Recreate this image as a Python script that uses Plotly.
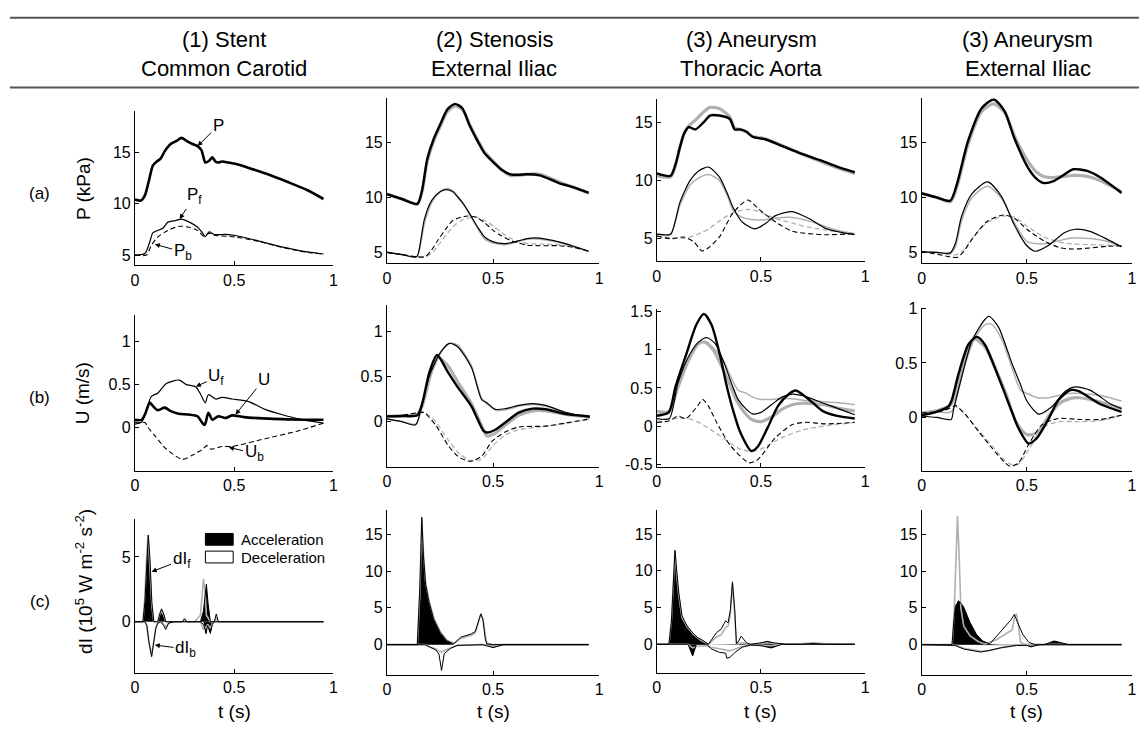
import numpy as np
import plotly.graph_objects as go

W, H = 1144, 729
FONT = "Liberation Sans, Arial, Helvetica, sans-serif"
GRAY = "#b0b0b0"

# ---------------- data ----------------
col_titles = ["(1) Stent", "(2) Stenosis", "(3) Aneurysm", "(3) Aneurysm"]
col_sites = ["Common Carotid", "External Iliac", "Thoracic Aorta", "External Iliac"]
row_labels = ["(a)", "(b)", "(c)"]
y_titles = ["P (kPa)", "U (m/s)", "dI (10<sup>5</sup> W m<sup>-2</sup> s<sup>-2</sup>)"]
legend_labels = ["Acceleration", "Deceleration"]
x_ticks = [0, 0.5, 1]
x_ticklabels = ["0", "0.5", "1"]

# Row (a): pressure
P1_t = [0, 0.03, 0.05, 0.07, 0.09, 0.11, 0.13, 0.15, 0.18, 0.21, 0.235, 0.26, 0.29, 0.315, 0.335, 0.355, 0.375, 0.39, 0.405, 0.42, 0.44, 0.47, 0.51, 0.57, 0.67, 0.77, 0.87, 0.95]
P1 = [10.4, 10.3, 10.8, 12.2, 13.7, 14.1, 14.4, 15.1, 15.8, 16.1, 16.4, 16.1, 15.8, 15.6, 15.2, 14.0, 14.2, 14.5, 14.1, 14.0, 14.1, 14.0, 13.85, 13.5, 12.85, 12.1, 11.3, 10.45]
Pf1_t = [0, 0.05, 0.075, 0.09, 0.115, 0.14, 0.166, 0.208, 0.233, 0.274, 0.316, 0.34, 0.354, 0.374, 0.40, 0.457, 0.507, 0.606, 0.74, 0.87, 0.95]
Pf1 = [5.0, 5.15, 6.3, 7.15, 7.4, 7.6, 8.2, 8.37, 8.5, 8.2, 7.7, 7.15, 6.8, 7.25, 7.0, 7.0, 6.9, 6.45, 5.8, 5.3, 5.1]
Pb1_t = [0, 0.058, 0.083, 0.116, 0.166, 0.224, 0.274, 0.316, 0.349, 0.37, 0.407, 0.507, 0.606, 0.74, 0.87, 0.95]
Pb1 = [5.0, 5.0, 5.96, 6.76, 7.4, 7.8, 7.7, 7.4, 6.8, 7.1, 6.9, 6.76, 6.4, 5.75, 5.25, 5.1]

P2_t = [0, 0.07, 0.143, 0.165, 0.19, 0.22, 0.25, 0.285, 0.32, 0.355, 0.39, 0.43, 0.46, 0.50, 0.54, 0.58, 0.62, 0.66, 0.72, 0.81, 0.88, 0.95]
P2 = [10.3, 9.85, 9.4, 10.6, 13.5, 15.3, 16.6, 18.0, 18.5, 18.1, 16.5, 15.0, 14.0, 13.2, 12.5, 12.1, 12.05, 12.1, 12.0, 11.3, 10.9, 10.4]
P2g = [10.3, 9.85, 9.4, 10.5, 13.3, 15.1, 16.4, 17.8, 18.3, 18.0, 16.6, 15.1, 14.1, 13.3, 12.5, 12.0, 12.0, 12.1, 12.1, 11.4, 10.9, 10.4]
Pf2_t = [0, 0.07, 0.14, 0.16, 0.175, 0.21, 0.25, 0.28, 0.31, 0.33, 0.36, 0.39, 0.43, 0.46, 0.50, 0.56, 0.62, 0.66, 0.72, 0.81, 0.88, 0.95]
Pf2 = [5.0, 4.8, 4.6, 6.2, 7.9, 9.7, 10.5, 10.7, 10.5, 10.1, 9.4, 8.5, 7.2, 6.4, 5.95, 5.8, 6.05, 6.25, 6.3, 5.95, 5.55, 5.1]
Pf2g = [5.0, 4.8, 4.6, 5.9, 7.5, 9.5, 10.5, 10.8, 10.6, 10.2, 9.4, 8.4, 7.1, 6.2, 5.85, 5.7, 6.0, 6.2, 6.2, 5.9, 5.5, 5.1]
Pb2_t = [0, 0.07, 0.14, 0.18, 0.21, 0.24, 0.28, 0.31, 0.35, 0.38, 0.42, 0.46, 0.50, 0.54, 0.58, 0.62, 0.66, 0.72, 0.81, 0.88, 0.95]
Pb2 = [5.0, 4.8, 4.6, 4.6, 5.2, 6.1, 7.2, 7.9, 8.2, 8.3, 8.2, 7.7, 7.0, 6.5, 6.1, 5.85, 5.65, 5.6, 5.6, 5.45, 5.1]
Pb2g = [5.0, 4.8, 4.6, 4.6, 4.9, 5.6, 6.6, 7.3, 7.9, 8.1, 8.2, 7.9, 7.4, 6.8, 6.3, 6.0, 5.8, 5.75, 5.7, 5.5, 5.1]

P3_t = [0, 0.066, 0.09, 0.11, 0.13, 0.153, 0.185, 0.224, 0.255, 0.30, 0.35, 0.374, 0.40, 0.43, 0.46, 0.52, 0.59, 0.68, 0.79, 0.886, 0.95]
P3 = [10.6, 10.4, 11.4, 12.8, 14.0, 14.6, 14.4, 15.0, 15.6, 15.6, 15.3, 14.4, 14.4, 14.2, 13.75, 13.55, 13.05, 12.4, 11.7, 11.05, 10.7]
P3g = [10.4, 10.3, 11.3, 12.8, 14.0, 14.7, 15.2, 15.9, 16.3, 16.2, 15.5, 14.5, 14.4, 14.2, 13.8, 13.6, 13.1, 12.4, 11.6, 10.95, 10.6]
Pf3_t = [0, 0.066, 0.09, 0.11, 0.16, 0.20, 0.248, 0.30, 0.34, 0.366, 0.41, 0.47, 0.52, 0.57, 0.65, 0.73, 0.81, 0.886, 0.95]
Pf3 = [5.35, 5.35, 6.6, 8.05, 10.0, 10.8, 11.15, 10.3, 8.8, 7.65, 6.4, 5.8, 6.25, 6.95, 7.3, 6.7, 5.85, 5.5, 5.3]
Pf3g = [5.35, 5.35, 6.5, 7.8, 9.6, 10.2, 10.5, 10.0, 8.6, 7.4, 6.8, 6.6, 6.6, 6.75, 6.8, 6.5, 6.0, 5.6, 5.4]
Pb3_t = [0, 0.066, 0.13, 0.177, 0.216, 0.25, 0.30, 0.366, 0.437, 0.49, 0.57, 0.65, 0.73, 0.81, 0.95]
Pb3 = [5.2, 4.95, 5.1, 4.7, 3.9, 4.2, 5.1, 7.2, 8.3, 7.5, 6.4, 5.6, 5.4, 5.3, 5.4]
Pb3g = [5.2, 5.05, 5.0, 5.2, 5.5, 5.8, 6.5, 7.2, 7.5, 7.3, 6.7, 6.3, 5.95, 5.7, 5.4]

P4_t = [0, 0.07, 0.136, 0.168, 0.22, 0.285, 0.343, 0.395, 0.44, 0.505, 0.545, 0.58, 0.63, 0.68, 0.72, 0.787, 0.85, 0.95]
P4 = [10.35, 10.0, 9.7, 11.25, 15.1, 18.1, 18.9, 17.8, 15.4, 12.7, 11.7, 11.3, 11.5, 12.1, 12.55, 12.4, 11.8, 10.4]
P4g = [10.35, 10.0, 9.6, 11.0, 14.8, 17.8, 18.5, 17.7, 15.6, 13.3, 12.3, 11.9, 11.8, 11.9, 12.0, 11.9, 11.5, 10.5]
Pf4_t = [0, 0.07, 0.136, 0.16, 0.19, 0.24, 0.313, 0.38, 0.44, 0.50, 0.54, 0.60, 0.68, 0.73, 0.80, 0.88, 0.95]
Pf4 = [5.05, 5.0, 4.95, 5.8, 8.3, 10.35, 11.4, 10.05, 7.5, 5.6, 5.1, 5.6, 6.8, 7.1, 6.9, 6.2, 5.5]
Pf4g = [5.05, 5.0, 4.9, 5.5, 7.9, 10.0, 11.0, 9.9, 7.7, 6.0, 5.8, 5.8, 6.2, 6.3, 6.25, 6.0, 5.5]
Pb4_t = [0, 0.07, 0.13, 0.17, 0.20, 0.24, 0.31, 0.39, 0.44, 0.50, 0.58, 0.66, 0.72, 0.80, 0.88, 0.95]
Pb4 = [5.05, 4.85, 4.6, 4.55, 5.1, 6.2, 7.8, 8.4, 8.1, 7.1, 6.05, 5.4, 5.3, 5.4, 5.55, 5.6]
Pb4g = [5.05, 4.9, 4.8, 4.8, 5.2, 6.3, 7.7, 8.3, 8.2, 7.4, 6.4, 5.9, 5.75, 5.7, 5.65, 5.6]

# Row (b): velocity
U1_t = [0, 0.033, 0.05, 0.075, 0.09, 0.116, 0.15, 0.18, 0.22, 0.27, 0.315, 0.34, 0.352, 0.37, 0.39, 0.42, 0.457, 0.49, 0.55, 0.70, 0.85, 0.95]
U1 = [0.088, 0.088, 0.15, 0.29, 0.25, 0.2, 0.23, 0.19, 0.16, 0.15, 0.13, 0.05, 0.03, 0.17, 0.09, 0.13, 0.11, 0.14, 0.12, 0.1, 0.09, 0.09]
Uf1_t = [0, 0.033, 0.05, 0.083, 0.116, 0.158, 0.224, 0.257, 0.307, 0.332, 0.354, 0.37, 0.407, 0.44, 0.49, 0.573, 0.656, 0.739, 0.822, 0.95]
Uf1 = [0.057, 0.06, 0.15, 0.36, 0.4, 0.51, 0.55, 0.5, 0.47, 0.38, 0.285, 0.38, 0.33, 0.35, 0.33, 0.3, 0.21, 0.15, 0.1, 0.05]
Ub1_t = [0, 0.05, 0.066, 0.1, 0.158, 0.24, 0.29, 0.34, 0.362, 0.382, 0.44, 0.49, 0.656, 0.822, 0.95]
Ub1 = [0.038, 0.057, 0.0, -0.095, -0.25, -0.37, -0.32, -0.255, -0.21, -0.25, -0.22, -0.22, -0.13, -0.04, 0.05]

U2_t = [0, 0.07, 0.143, 0.167, 0.2, 0.236, 0.287, 0.334, 0.398, 0.454, 0.47, 0.51, 0.557, 0.62, 0.685, 0.748, 0.844, 0.955]
U2 = [0.058, 0.062, 0.07, 0.21, 0.55, 0.74, 0.55, 0.38, 0.17, -0.1, -0.12, -0.09, -0.01, 0.1, 0.144, 0.137, 0.083, 0.058]
U2g = [0.06, 0.065, 0.08, 0.18, 0.48, 0.72, 0.62, 0.44, 0.2, -0.09, -0.16, -0.13, -0.04, 0.07, 0.12, 0.12, 0.08, 0.05]
Uf2_t = [0, 0.07, 0.135, 0.16, 0.2, 0.255, 0.295, 0.334, 0.398, 0.446, 0.47, 0.51, 0.557, 0.62, 0.685, 0.748, 0.844, 0.955]
Uf2 = [0.03, 0.0, -0.035, 0.137, 0.51, 0.78, 0.87, 0.83, 0.6, 0.245, 0.21, 0.137, 0.144, 0.18, 0.2, 0.18, 0.1, 0.047]
Uf2g = [0.03, 0.0, -0.03, 0.11, 0.47, 0.77, 0.87, 0.85, 0.62, 0.26, 0.2, 0.13, 0.13, 0.17, 0.19, 0.17, 0.1, 0.05]
Ub2_t = [0, 0.07, 0.15, 0.175, 0.23, 0.287, 0.334, 0.39, 0.446, 0.494, 0.557, 0.62, 0.748, 0.844, 0.955]
Ub2 = [0.06, 0.07, 0.1, 0.1, -0.04, -0.26, -0.385, -0.44, -0.385, -0.22, -0.115, -0.06, -0.05, -0.014, 0.03]
Ub2g = [0.06, 0.07, 0.1, 0.11, 0.0, -0.2, -0.34, -0.43, -0.42, -0.28, -0.15, -0.09, -0.05, -0.02, 0.03]

U3_t = [0, 0.057, 0.09, 0.14, 0.19, 0.226, 0.262, 0.303, 0.336, 0.369, 0.40, 0.454, 0.484, 0.533, 0.582, 0.631, 0.667, 0.73, 0.795, 0.86, 0.95]
U3 = [0.137, 0.18, 0.52, 0.93, 1.33, 1.47, 1.33, 0.93, 0.52, 0.18, -0.077, -0.325, -0.27, -0.013, 0.265, 0.415, 0.466, 0.35, 0.2, 0.137, 0.1]
U3g_t = [0, 0.06, 0.1, 0.15, 0.2, 0.23, 0.27, 0.3, 0.35, 0.38, 0.42, 0.46, 0.5, 0.55, 0.6, 0.65, 0.7, 0.8, 0.9, 0.95]
U3g = [0.19, 0.19, 0.5, 0.85, 1.08, 1.1, 1.0, 0.85, 0.55, 0.35, 0.18, 0.08, 0.06, 0.12, 0.22, 0.28, 0.3, 0.28, 0.22, 0.2]
Uf3_t = [0, 0.06, 0.1, 0.15, 0.2, 0.24, 0.28, 0.32, 0.36, 0.39, 0.43, 0.46, 0.5, 0.55, 0.6, 0.65, 0.7, 0.8, 0.9, 0.95]
Uf3 = [0.1, 0.1, 0.55, 0.9, 1.1, 1.16, 1.08, 0.85, 0.55, 0.35, 0.22, 0.16, 0.18, 0.28, 0.38, 0.42, 0.4, 0.3, 0.2, 0.15]
Uf3g = [0.2, 0.2, 0.5, 0.88, 1.1, 1.1, 1.0, 0.85, 0.62, 0.47, 0.43, 0.38, 0.35, 0.35, 0.36, 0.36, 0.34, 0.32, 0.3, 0.28]
Ub3_t = [0, 0.06, 0.1, 0.14, 0.197, 0.22, 0.246, 0.287, 0.352, 0.443, 0.484, 0.566, 0.648, 0.713, 0.81, 0.95]
Ub3 = [0.05, 0.07, 0.13, 0.1, 0.27, 0.35, 0.27, 0.05, -0.25, -0.48, -0.44, -0.16, 0.017, 0.05, 0.03, 0.05]
Ub3g_t = [0, 0.1, 0.15, 0.2, 0.25, 0.3, 0.35, 0.4, 0.45, 0.5, 0.6, 0.7, 0.8, 0.95]
Ub3g = [0.08, 0.1, 0.1, 0.05, -0.03, -0.12, -0.22, -0.3, -0.33, -0.3, -0.15, -0.05, 0.0, 0.05]

U4_t = [0, 0.063, 0.127, 0.143, 0.175, 0.222, 0.262, 0.3, 0.365, 0.43, 0.46, 0.508, 0.548, 0.603, 0.65, 0.706, 0.746, 0.85, 0.95]
U4 = [0.02, 0.045, 0.1, 0.16, 0.4, 0.67, 0.74, 0.67, 0.37, 0.045, -0.1, -0.24, -0.19, -0.015, 0.16, 0.25, 0.24, 0.12, 0.05]
U4g_t = [0, 0.07, 0.14, 0.2, 0.25, 0.3, 0.35, 0.4, 0.45, 0.5, 0.55, 0.6, 0.65, 0.7, 0.75, 0.85, 0.95]
U4g = [0.04, 0.06, 0.12, 0.5, 0.72, 0.65, 0.45, 0.22, -0.05, -0.16, -0.14, 0.0, 0.12, 0.17, 0.18, 0.14, 0.08]
Uf4_t = [0, 0.07, 0.14, 0.151, 0.19, 0.238, 0.3, 0.32, 0.365, 0.43, 0.47, 0.5, 0.556, 0.62, 0.683, 0.73, 0.8, 0.9, 0.95]
Uf4 = [0.01, 0.0, -0.02, 0.07, 0.37, 0.7, 0.9, 0.93, 0.83, 0.49, 0.3, 0.15, 0.03, 0.1, 0.24, 0.28, 0.25, 0.12, 0.08]
Uf4g_t = [0, 0.07, 0.14, 0.2, 0.25, 0.3, 0.33, 0.38, 0.43, 0.47, 0.5, 0.55, 0.6, 0.65, 0.7, 0.75, 0.85, 0.95]
Uf4g = [0.05, 0.05, 0.05, 0.45, 0.72, 0.85, 0.86, 0.72, 0.45, 0.25, 0.22, 0.18, 0.18, 0.2, 0.22, 0.22, 0.2, 0.15]
Ub4_t = [0, 0.1, 0.15, 0.16, 0.206, 0.27, 0.333, 0.397, 0.42, 0.46, 0.508, 0.571, 0.65, 0.75, 0.85, 0.95]
Ub4 = [0.04, 0.06, 0.1, 0.11, 0.03, -0.13, -0.28, -0.42, -0.45, -0.42, -0.25, -0.07, -0.01, -0.02, -0.02, 0.02]
Ub4g = [0.04, 0.06, 0.1, 0.1, 0.03, -0.12, -0.26, -0.4, -0.43, -0.43, -0.3, -0.1, -0.04, -0.04, -0.03, 0.02]

# Row (c): wave intensity (10^5 W m^-2 s^-2)
dIf1_t = [0, 0.04, 0.05, 0.06, 0.067, 0.075, 0.085, 0.095, 0.115, 0.125, 0.134, 0.145, 0.155, 0.2, 0.24, 0.25, 0.26, 0.3, 0.33, 0.345, 0.352, 0.36, 0.368, 0.38, 0.4, 0.41, 0.42, 0.45, 0.95]
dIf1 = [0, 0, 1.5, 5.0, 6.7, 5.0, 1.5, 0, 0, 0.6, 1.0, 0.6, 0, 0, 0, 0.2, 0, 0, 0, 0.8, 2.0, 2.9, 1.5, 0, 0, 0.6, 0, 0, 0]
dIf1g = [0, 0, 2.0, 5.5, 6.6, 4.5, 1.2, 0, 0, 0.6, 0.8, 0.5, 0, 0, 0, 0.3, 0, 0, 0.5, 3.3, 2.5, 0.5, 0.3, 0, 0, 0.3, 0, 0, 0]
dIb1_t = [0, 0.05, 0.06, 0.07, 0.084, 0.095, 0.105, 0.115, 0.13, 0.145, 0.155, 0.17, 0.2, 0.33, 0.345, 0.352, 0.358, 0.366, 0.372, 0.38, 0.39, 0.4, 0.95]
dIb1 = [0, 0, -0.3, -1.5, -2.7, -1.5, -0.5, -0.1, 0, -0.3, -0.6, -0.1, 0, 0, -0.2, -0.5, -0.93, -0.3, -0.5, -0.9, -0.2, 0, 0]
dIb1g = [0, 0, -0.3, -1.6, -2.6, -1.4, -0.5, -0.1, 0, -0.2, -0.4, -0.1, 0, 0, -0.6, -0.4, -0.5, -0.2, -0.3, -0.5, -0.1, 0, 0]

dIf2_t = [0, 0.143, 0.155, 0.164, 0.172, 0.182, 0.198, 0.221, 0.252, 0.283, 0.315, 0.346, 0.377, 0.40, 0.416, 0.431, 0.442, 0.452, 0.463, 0.47, 0.5, 0.95]
dIf2 = [0, 0, 8.0, 17.3, 12.0, 8.2, 5.8, 3.4, 1.6, 0.5, 0.1, 1.0, 1.27, 1.5, 1.8, 3.1, 4.2, 3.4, 0.75, 0.1, 0, 0]
dIf2g = [0, 0, 7.0, 17.0, 12.5, 8.5, 6.0, 3.6, 1.7, 0.6, 0.2, 0.8, 1.1, 1.3, 1.6, 3.0, 4.1, 3.5, 1.0, 0.2, 0, 0]
dIb2_t = [0, 0.18, 0.2, 0.23, 0.245, 0.257, 0.27, 0.3, 0.33, 0.45, 0.5, 0.55, 0.95]
dIb2 = [0, 0, -0.3, -0.7, -1.3, -3.5, -1.2, -0.5, -0.1, 0, -0.4, 0, 0]
dIb2g = [0, 0, -0.3, -0.6, -0.9, -1.0, -0.8, -0.4, -0.1, 0, -0.2, 0, 0]

dIf3_t = [0, 0.058, 0.07, 0.08, 0.087, 0.097, 0.106, 0.121, 0.145, 0.177, 0.2, 0.208, 0.22, 0.24, 0.248, 0.287, 0.31, 0.33, 0.342, 0.353, 0.363, 0.374, 0.382, 0.39, 0.405, 0.43, 0.45, 0.5, 0.53, 0.56, 0.62, 0.7, 0.75, 0.8, 0.95]
dIf3 = [0, 0, 3.0, 9.0, 12.8, 9.5, 6.9, 3.85, 2.5, 1.4, 0.8, 0.75, 0.5, 0.2, 0, 1.6, 2.1, 3.2, 2.9, 4.7, 8.5, 4.7, 0.1, 0.3, 1.1, 0.2, 0, 0.2, 0.4, 0.2, 0, 0, 0.1, 0, 0]
dIf3g = [0, 0, 3.2, 9.5, 12.6, 9.0, 6.5, 3.6, 2.4, 1.3, 0.7, 0.6, 0.4, 0.15, 0, 1.0, 1.3, 2.3, 2.5, 4.0, 8.3, 4.0, 0.1, 0.1, 0.2, 0.05, 0, 0.1, 0.2, 0.1, 0, 0.1, 0.2, 0.1, 0]
dIb3_t = [0, 0.15, 0.172, 0.19, 0.24, 0.26, 0.3, 0.33, 0.336, 0.35, 0.38, 0.41, 0.45, 0.5, 0.55, 0.6, 0.95]
dIb3 = [0, 0, -1.6, 0, 0, -0.6, -1.1, -1.2, -1.9, -1.8, -1.0, -0.4, -0.1, -0.2, -0.5, 0, 0]
dIb3g = [0, 0, -0.5, -0.3, -0.2, -0.4, -0.6, -0.8, -0.9, -0.9, -0.6, -0.3, -0.1, -0.1, -0.2, 0, 0]

dIf4_t = [0, 0.144, 0.152, 0.16, 0.175, 0.198, 0.23, 0.26, 0.29, 0.323, 0.37, 0.4, 0.425, 0.44, 0.456, 0.48, 0.51, 0.54, 0.58, 0.63, 0.7, 0.95]
dIf4 = [0, 0, 3.0, 5.2, 5.97, 5.2, 3.0, 1.4, 0.5, 0.1, 1.6, 2.6, 3.4, 4.1, 3.0, 1.4, 0.3, 0, 0, 0.5, 0, 0]
dIf4g_t = [0, 0.145, 0.155, 0.165, 0.17, 0.178, 0.186, 0.2, 0.23, 0.27, 0.3, 0.35, 0.4, 0.43, 0.44, 0.45, 0.46, 0.47, 0.5, 0.95]
dIf4g = [0, 0, 5.0, 15.0, 17.5, 12.0, 5.0, 2.5, 1.2, 0.4, 0.1, 0.6, 1.5, 2.0, 3.5, 4.2, 2.5, 0.3, 0, 0]
dIb4_t = [0, 0.16, 0.2, 0.25, 0.28, 0.32, 0.38, 0.45, 0.5, 0.52, 0.56, 0.95]
dIb4 = [0, -0.1, -0.6, -0.9, -1.0, -0.8, -0.4, -0.1, -0.1, -0.3, 0, 0]
dIb4g = [0, -0.1, -0.5, -0.8, -0.9, -0.8, -0.4, -0.1, 0, 0, 0, 0]

# time windows of accelerating waves (black fill)
acc_f = [[(0.04, 0.1), (0.11, 0.16), (0.34, 0.37)], [(0.14, 0.31)], [(0.05, 0.25), (0.45, 0.62)], [(0.14, 0.33), (0.58, 0.7)]]
acc_b = [[(0.35, 0.39)], [(0.44, 0.56)], [(0.14, 0.2), (0.45, 0.62)], [(0.49, 0.57)]]

# y tick values per panel
yt_a = [[5, 10, 15]] * 4
yt_b = [[0, 0.5, 1], [0, 0.5, 1], [-0.5, 0, 0.5, 1, 1.5], [0, 0.5, 1]]
yt_c = [[0, 5], [0, 5, 10, 15], [0, 5, 10, 15], [0, 5, 10, 15]]

# ---------------- layout geometry (pixels) ----------------
PANEL_PX = {
    (0, 0): (132, 332, 106, 263), (0, 1): (386, 600, 93, 261), (0, 2): (658, 868, 94, 259), (0, 3): (925, 1137, 93, 261),
    (1, 0): (132, 332, 314, 472), (1, 1): (386, 600, 303, 468), (1, 2): (658, 868, 307, 468), (1, 3): (925, 1137, 306, 472),
    (2, 0): (132, 332, 521, 678), (2, 1): (386, 600, 512, 680), (2, 2): (658, 868, 512, 678), (2, 3): (925, 1137, 512, 680),
}
YRANGE = {
    (0, 0): [4, 19], (0, 1): [4, 19], (0, 2): [3, 17], (0, 3): [4, 19],
    (1, 0): [-0.5, 1.3], (1, 1): [-0.5, 1.3], (1, 2): [-0.53, 1.54], (1, 3): [-0.49, 1.01],
    (2, 0): [-3.95, 7.95], (2, 1): [-4.1, 18.3], (2, 2): [-3.9, 18.3], (2, 3): [-4.1, 18.3],
}


def fx(x):
    return x / W


def fy(y):
    return 1 - y / H


def idx(r, c):
    return r * 4 + c + 1


def axn(i):
    return ("x" if i == 1 else f"x{i}"), ("y" if i == 1 else f"y{i}")


fig = go.Figure()


def line(r, c, t, y, color, width, dash="solid", shape="spline"):
    xa, ya = axn(idx(r, c))
    fig.add_trace(go.Scatter(
        x=t, y=y, mode="lines", xaxis=xa, yaxis=ya, showlegend=False, hoverinfo="skip",
        line=dict(color=color, width=width, dash=dash, shape=shape, smoothing=0.7 if shape == "spline" else None)))


def fill(r, c, t, y, windows):
    t = np.asarray(t, float)
    y = np.asarray(y, float)
    m = np.zeros(len(t), bool)
    for a, b in windows:
        m |= (t >= a) & (t <= b)
    yy = np.where(m, y, 0.0)
    xa, ya = axn(idx(r, c))
    fig.add_trace(go.Scatter(x=t, y=yy, mode="lines", xaxis=xa, yaxis=ya, showlegend=False,
                             hoverinfo="skip", line=dict(width=0, color="black"),
                             fill="tozeroy", fillcolor="black"))


DASH = "5px,3px"

# ---- row a ----
line(0, 0, Pb1_t, Pb1, "black", 1.1, DASH)
line(0, 0, Pf1_t, Pf1, "black", 1.2)
line(0, 0, P1_t, P1, "black", 2.6)

for c, (Pt, P, Pg, Pft, Pf, Pfg, Pbt, Pb, Pbg) in enumerate([
        (P2_t, P2, P2g, Pf2_t, Pf2, Pf2g, Pb2_t, Pb2, Pb2g),
        (P3_t, P3, P3g, Pf3_t, Pf3, Pf3g, Pb3_t, Pb3, Pb3g),
        (P4_t, P4, P4g, Pf4_t, Pf4, Pf4g, Pb4_t, Pb4, Pb4g)], start=1):
    line(0, c, Pbt, Pbg, GRAY, 1.3, DASH)
    line(0, c, Pft, Pfg, GRAY, 1.5)
    line(0, c, Pt, Pg, GRAY, 3.2)
    line(0, c, Pbt, Pb, "black", 1.1, DASH)
    line(0, c, Pft, Pf, "black", 1.2)
    line(0, c, Pt, P, "black", 2.4)

# ---- row b ----
line(1, 0, Ub1_t, Ub1, "black", 1.1, DASH)
line(1, 0, Uf1_t, Uf1, "black", 1.2)
line(1, 0, U1_t, U1, "black", 2.6)

for c, (Ut, U, Ugt, Ug, Uft, Uf, Ufgt, Ufg, Ubt, Ub, Ubgt, Ubg) in enumerate([
        (U2_t, U2, U2_t, U2g, Uf2_t, Uf2, Uf2_t, Uf2g, Ub2_t, Ub2, Ub2_t, Ub2g),
        (U3_t, U3, U3g_t, U3g, Uf3_t, Uf3, Uf3_t, Uf3g, Ub3_t, Ub3, Ub3g_t, Ub3g),
        (U4_t, U4, U4g_t, U4g, Uf4_t, Uf4, Uf4g_t, Uf4g, Ub4_t, Ub4, Ub4_t, Ub4g)], start=1):
    line(1, c, Ubgt, Ubg, GRAY, 1.3, DASH)
    line(1, c, Ufgt, Ufg, GRAY, 1.5)
    line(1, c, Ugt, Ug, GRAY, 3.2)
    line(1, c, Ubt, Ub, "black", 1.1, DASH)
    line(1, c, Uft, Uf, "black", 1.2)
    line(1, c, Ut, U, "black", 2.4)

# ---- row c ----
rowc = [
    (dIf1_t, dIf1, dIf1_t, dIf1g, dIb1_t, dIb1, dIb1g),
    (dIf2_t, dIf2, dIf2_t, dIf2g, dIb2_t, dIb2, dIb2g),
    (dIf3_t, dIf3, dIf3_t, dIf3g, dIb3_t, dIb3, dIb3g),
    (dIf4_t, dIf4, dIf4g_t, dIf4g, dIb4_t, dIb4, dIb4g),
]
for c, (ft, f, fgt, fg, bt, b, bg) in enumerate(rowc):
    fill(2, c, ft, f, acc_f[c])
    fill(2, c, bt, b, acc_b[c])
    line(2, c, fgt, fg, GRAY, 1.6, shape="linear")
    line(2, c, bt, bg, GRAY, 1.6, shape="linear")
    line(2, c, ft, f, "black", 1.0, shape="linear")
    line(2, c, bt, b, "black", 1.0, shape="linear")

# ---- axes ----
tickfont = dict(family=FONT, size=16, color="black")
layout = {}
for (r, c), (l, rr, t, b) in PANEL_PX.items():
    i = idx(r, c)
    xa, ya = axn(i)
    xk = "xaxis" if i == 1 else f"xaxis{i}"
    yk = "yaxis" if i == 1 else f"yaxis{i}"
    ytv = [yt_a, yt_b, yt_c][r][c]
    layout[xk] = dict(domain=[fx(l), fx(rr)], anchor=ya, range=[0, 1], showgrid=False, zeroline=False,
                      showline=True, linecolor="black", linewidth=1, ticks="inside", ticklen=4,
                      tickcolor="black", tickvals=x_ticks, ticktext=x_ticklabels, tickfont=tickfont)
    layout[yk] = dict(domain=[fy(b), fy(t)], anchor=xa, range=YRANGE[(r, c)], showgrid=False, zeroline=False,
                      showline=True, linecolor="black", linewidth=1, ticks="inside", ticklen=4,
                      tickcolor="black", tickvals=ytv, ticktext=[f"{v:g}" for v in ytv], tickfont=tickfont)
fig.update_layout(**layout)

anns = []


def text(xp, yp, s, size, angle=0, xanchor="center"):
    anns.append(dict(x=fx(xp), y=fy(yp), text=s, xref="paper", yref="paper", showarrow=False,
                     xanchor=xanchor, yanchor="middle", textangle=angle,
                     font=dict(family=FONT, size=size, color="black")))


col_center = [222, 494, 753, 1032]
for c in range(4):
    text(col_center[c], 33, col_titles[c], 22)
    text(col_center[c], 63, col_sites[c], 22)

row_center = [185, 393, 600]
for r in range(3):
    text(36, row_center[r] + 5, row_labels[r], 17)
    text(80, row_center[r] - (15 if r == 2 else 0), y_titles[r], 19, angle=-90)
for c in range(4):
    l, rr, _, _ = PANEL_PX[(2, c)]
    text((l + rr) / 2, 717, "t (s)", 19)

# legend (manual, like the MATLAB patch legend)
text(237, 542, legend_labels[0], 15, xanchor="left")
text(237, 560, legend_labels[1], 15, xanchor="left")
shapes = [
    dict(type="line", xref="paper", yref="paper", x0=fx(6), x1=1, y0=fy(11), y1=fy(11),
         line=dict(color="#555555", width=2)),
    dict(type="line", xref="paper", yref="paper", x0=fx(6), x1=1, y0=fy(82), y1=fy(82),
         line=dict(color="#555555", width=2)),
    dict(type="rect", xref="paper", yref="paper", x0=fx(203), x1=fx(231), y0=fy(548), y1=fy(536),
         fillcolor="black", line=dict(color="black", width=1)),
    dict(type="rect", xref="paper", yref="paper", x0=fx(203), x1=fx(231), y0=fy(566), y1=fy(554),
         fillcolor="white", line=dict(color="black", width=1)),
]


# labelled arrows in column 1
def arrow(r, c, hx, hy, tx, ty, s):
    xa, ya = axn(idx(r, c))
    anns.append(dict(x=hx, y=hy, ax=tx, ay=ty, xref=xa, yref=ya, axref=xa, ayref=ya, text=s,
                     showarrow=True, arrowhead=2, arrowsize=1, arrowwidth=1, arrowcolor="black",
                     font=dict(family=FONT, size=17, color="black")))


arrow(0, 0, 0.316, 15.6, 0.42, 17.6, "P")
arrow(0, 0, 0.225, 8.5, 0.30, 10.7, "P<sub>f</sub>")
arrow(0, 0, 0.10, 6.05, 0.24, 5.3, "P<sub>b</sub>")
arrow(1, 0, 0.307, 0.475, 0.41, 0.58, "U<sub>f</sub>")
arrow(1, 0, 0.507, 0.15, 0.65, 0.56, "U")
arrow(1, 0, 0.473, -0.23, 0.6, -0.3, "U<sub>b</sub>")
arrow(2, 0, 0.084, 3.86, 0.235, 4.75, "dI<sub>f</sub>")
arrow(2, 0, 0.10, -1.8, 0.255, -2.1, "dI<sub>b</sub>")

fig.update_layout(
    width=W, height=H, margin=dict(l=0, r=0, t=0, b=0),
    paper_bgcolor="white", plot_bgcolor="white",
    annotations=anns, shapes=shapes,
    showlegend=False,
    font=dict(family=FONT, color="black"),
)

fig.write_html("out.html")
